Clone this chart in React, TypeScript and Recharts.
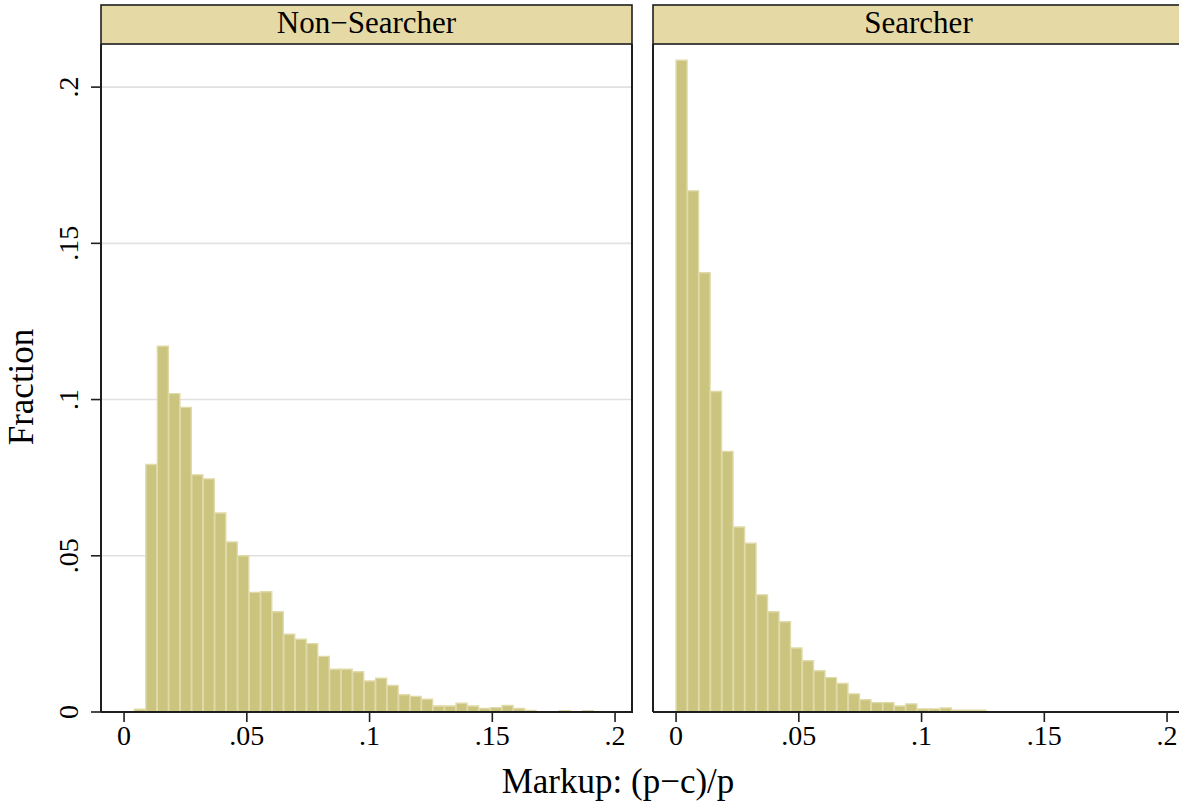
import { BarChart, Bar, XAxis, YAxis, CartesianGrid } from 'recharts'

// histogram fractions, one value per bin
const binWidth = 0.00468
const nonSearcherStart = 0.0042
const searcherStart = 0

const nonSearcherFractions = [
  0.0009, 0.0792, 0.1171, 0.1019, 0.0975, 0.0759, 0.0746, 0.0637, 0.0544, 0.05,
  0.0383, 0.0385, 0.0321, 0.0249, 0.0233, 0.0219, 0.0178, 0.0137, 0.0137, 0.0129,
  0.0099, 0.0108, 0.0085, 0.0055, 0.005, 0.0041, 0.0019, 0.0019, 0.0028, 0.0019,
  0.0011, 0.0014, 0.0021, 0.0011, 0.0005, 0, 0, 0.0004, 0, 0.0004,
]

const searcherFractions = [
  0.2086, 0.1668, 0.1406, 0.1026, 0.0834, 0.0592, 0.054, 0.0375, 0.0321, 0.0289,
  0.0205, 0.0164, 0.0132, 0.011, 0.0091, 0.0058, 0.0039, 0.003, 0.003, 0.0019,
  0.0026, 0.001, 0.001, 0.0013, 0.0006, 0.0006, 0.0006,
]

const xTicks = [0, 0.05, 0.1, 0.15, 0.2]
const yTicks = [0, 0.05, 0.1, 0.15, 0.2]
const panelTitles = ['Non\u2212Searcher', 'Searcher']

const toBins = (start: number, values: number[]) =>
  values.map((v, i) => ({ x: start + (i + 0.5) * binWidth, fraction: v }))

const nonSearcherData = toBins(nonSearcherStart, nonSearcherFractions)
const searcherData = toBins(searcherStart, searcherFractions)

const FONT = '"Liberation Serif", "Times New Roman", serif'
const INK = '#1e1e1e'
const xDomain = [-0.0094, 0.2069]
const yDomain = [0, 0.2138]

const fmt = (v: number) => (v === 0 ? '0' : String(v).replace(/^0/, ''))

const RotatedTick = (props: any) => {
  const { x, y, payload } = props
  return (
    <text
      x={x}
      y={y}
      transform={`rotate(-90, ${x}, ${y})`}
      textAnchor="middle"
      fontFamily={FONT}
      fontSize={28}
      fill="#000"
    >
      {fmt(payload.value)}
    </text>
  )
}

function Panel({ data, showY }: { data: { x: number; fraction: number }[]; showY: boolean }) {
  return (
    <BarChart
      width={showY ? 640 : 547}
      height={808}
      data={data}
      margin={{ top: 44, right: 8, bottom: 0, left: 0 }}
      barCategoryGap={0}
      barGap={0}
    >
      <CartesianGrid horizontal vertical={false} stroke="#e1e1e1" strokeWidth={1.6} />
      <XAxis
        type="number"
        dataKey="x"
        domain={xDomain}
        ticks={xTicks}
        tickFormatter={fmt}
        height={96}
        tickSize={10}
        tickMargin={3}
        axisLine={{ stroke: INK, strokeWidth: 2 }}
        tickLine={{ stroke: INK, strokeWidth: 1.6 }}
        tick={{ fontFamily: FONT, fontSize: 28, fill: '#000' }}
      />
      <YAxis
        type="number"
        domain={yDomain}
        ticks={yTicks}
        width={showY ? 101 : 8}
        tickSize={10}
        tickMargin={13}
        axisLine={{ stroke: INK, strokeWidth: 2 }}
        tickLine={showY ? { stroke: INK, strokeWidth: 1.6 } : false}
        tick={showY ? <RotatedTick /> : false}
      />
      <Bar
        dataKey="fraction"
        fill="#cbc47f"
        stroke="#dfdaa8"
        strokeWidth={1.4}
        isAnimationActive={false}
      />
    </BarChart>
  )
}

export default function App() {
  return (
    <div
      style={{
        position: 'absolute',
        left: 0,
        top: 0,
        width: 1179,
        height: 808,
        overflow: 'hidden',
        background: '#fff',
      }}
    >
      <div style={{ position: 'absolute', left: 0, top: 0 }}>
        <Panel data={nonSearcherData} showY />
      </div>
      <div style={{ position: 'absolute', left: 645, top: 0 }}>
        <Panel data={searcherData} showY={false} />
      </div>
      <svg
        width={1179}
        height={808}
        style={{ position: 'absolute', left: 0, top: 0, pointerEvents: 'none' }}
      >
        <line x1={632} y1={44} x2={632} y2={713} stroke={INK} strokeWidth={2} />
        <line x1={1184} y1={44} x2={1184} y2={713} stroke={INK} strokeWidth={2} />
        {[101, 653].map((left, i) => (
          <g key={left}>
            <rect x={left} y={5} width={531} height={39} fill="#e5d9a5" stroke={INK} strokeWidth={1.6} />
            <text
              x={left + 265.5}
              y={33}
              textAnchor="middle"
              fontFamily={FONT}
              fontSize={31}
              fill="#000"
            >
              {panelTitles[i]}
            </text>
          </g>
        ))}
        <text
          x={33}
          y={387}
          transform="rotate(-90, 33, 387)"
          textAnchor="middle"
          fontFamily={FONT}
          fontSize={35}
          fill="#000"
        >
          Fraction
        </text>
        <text x={618} y={793} textAnchor="middle" fontFamily={FONT} fontSize={35} fill="#000">
          Markup: (p{'\u2212'}c)/p
        </text>
      </svg>
    </div>
  )
}
